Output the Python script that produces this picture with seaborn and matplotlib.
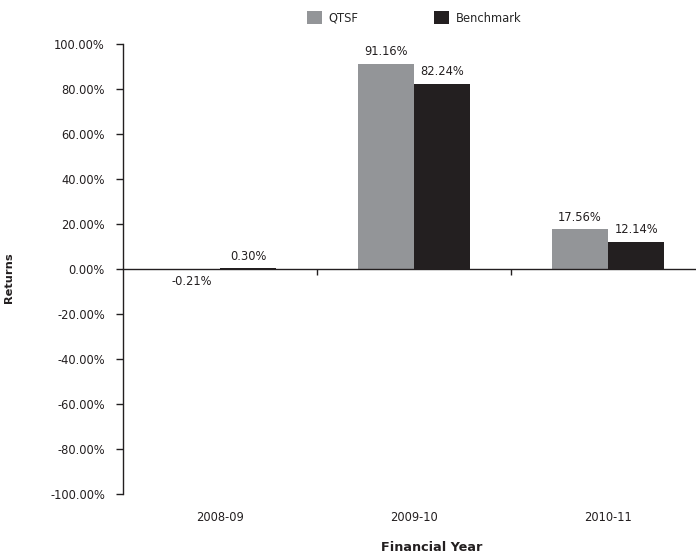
import matplotlib
matplotlib.use("Agg")
import matplotlib.pyplot as plt
import seaborn as sns
import pandas as pd
from matplotlib.ticker import FuncFormatter, FixedLocator

years = ["2008-09", "2009-10", "2010-11"]
series = ["QTSF", "Benchmark"]
qtsf = [-0.21, 91.16, 17.56]
benchmark = [0.30, 82.24, 12.14]
colors = ["#939598", "#231f20"]

df = pd.DataFrame({
    "Financial Year": years * 2,
    "Fund": ["QTSF"] * 3 + ["Benchmark"] * 3,
    "Returns": qtsf + benchmark,
})

sns.set_theme(style="white")
plt.rcParams["font.family"] = ["DejaVu Sans"]

fig = plt.figure(figsize=(6.96, 5.53), dpi=100)
W, H = 696, 553
left, right, top, bottom = 123, 705, 44, 494
ax = fig.add_axes([left / W, 1 - bottom / H, (right - left) / W, (bottom - top) / H])

sns.barplot(data=df, x="Financial Year", y="Returns", hue="Fund",
            hue_order=series, palette=colors, width=0.58, ax=ax,
            saturation=1, errorbar=None, linewidth=0)

for cont, vals in zip(ax.containers, [qtsf, benchmark]):
    ax.bar_label(cont, labels=[f"{v:.2f}%" for v in vals], padding=4,
                 fontsize=8.3, color="#231f20")

ax.set_ylim(-100, 100)
ax.set_xlim(-0.5, 2.5)
ax.set_yticks(range(-100, 101, 20))
ax.yaxis.set_major_formatter(FuncFormatter(lambda v, p: f"{v:.2f}%"))
ax.tick_params(axis="y", which="major", direction="out", length=5, width=1,
               color="#231f20", labelsize=8.3, labelcolor="#231f20", pad=8, left=True)

for s in ["top", "right"]:
    ax.spines[s].set_visible(False)
ax.spines["left"].set_color("#231f20")
ax.spines["left"].set_linewidth(1)
ax.spines["bottom"].set_position(("data", 0))
ax.spines["bottom"].set_color("#231f20")
ax.spines["bottom"].set_linewidth(1)

ax.xaxis.set_minor_locator(FixedLocator([0.5, 1.5]))
ax.tick_params(axis="x", which="minor", direction="out", length=4, width=1,
               color="#231f20", bottom=True)
pad_pt = (bottom - 269 + 17) * 72 / 100
ax.tick_params(axis="x", which="major", length=0, labelsize=8.3,
               labelcolor="#231f20", pad=pad_pt)

ax.set_xlabel("Financial Year", fontsize=9.2, fontweight="bold", color="#231f20")
ax.xaxis.set_label_coords((432 - left) / (right - left), -(541 - bottom) / (bottom - top))
ax.set_ylabel("Returns", fontsize=8.2, fontweight="bold", color="#231f20")
ax.yaxis.set_label_coords(-(123 - 14) / (right - left), (bottom - 278) / (bottom - top))

handles, labels = ax.get_legend_handles_labels()
ax.get_legend().remove()
fig.legend(handles, labels, loc="center", bbox_to_anchor=(414 / W, 1 - 18 / H),
           ncol=2, frameon=False, fontsize=8.3, handlelength=1.3, handleheight=1.3,
           columnspacing=6.5, handletextpad=0.6)

fig.savefig("out.png", dpi=100)
